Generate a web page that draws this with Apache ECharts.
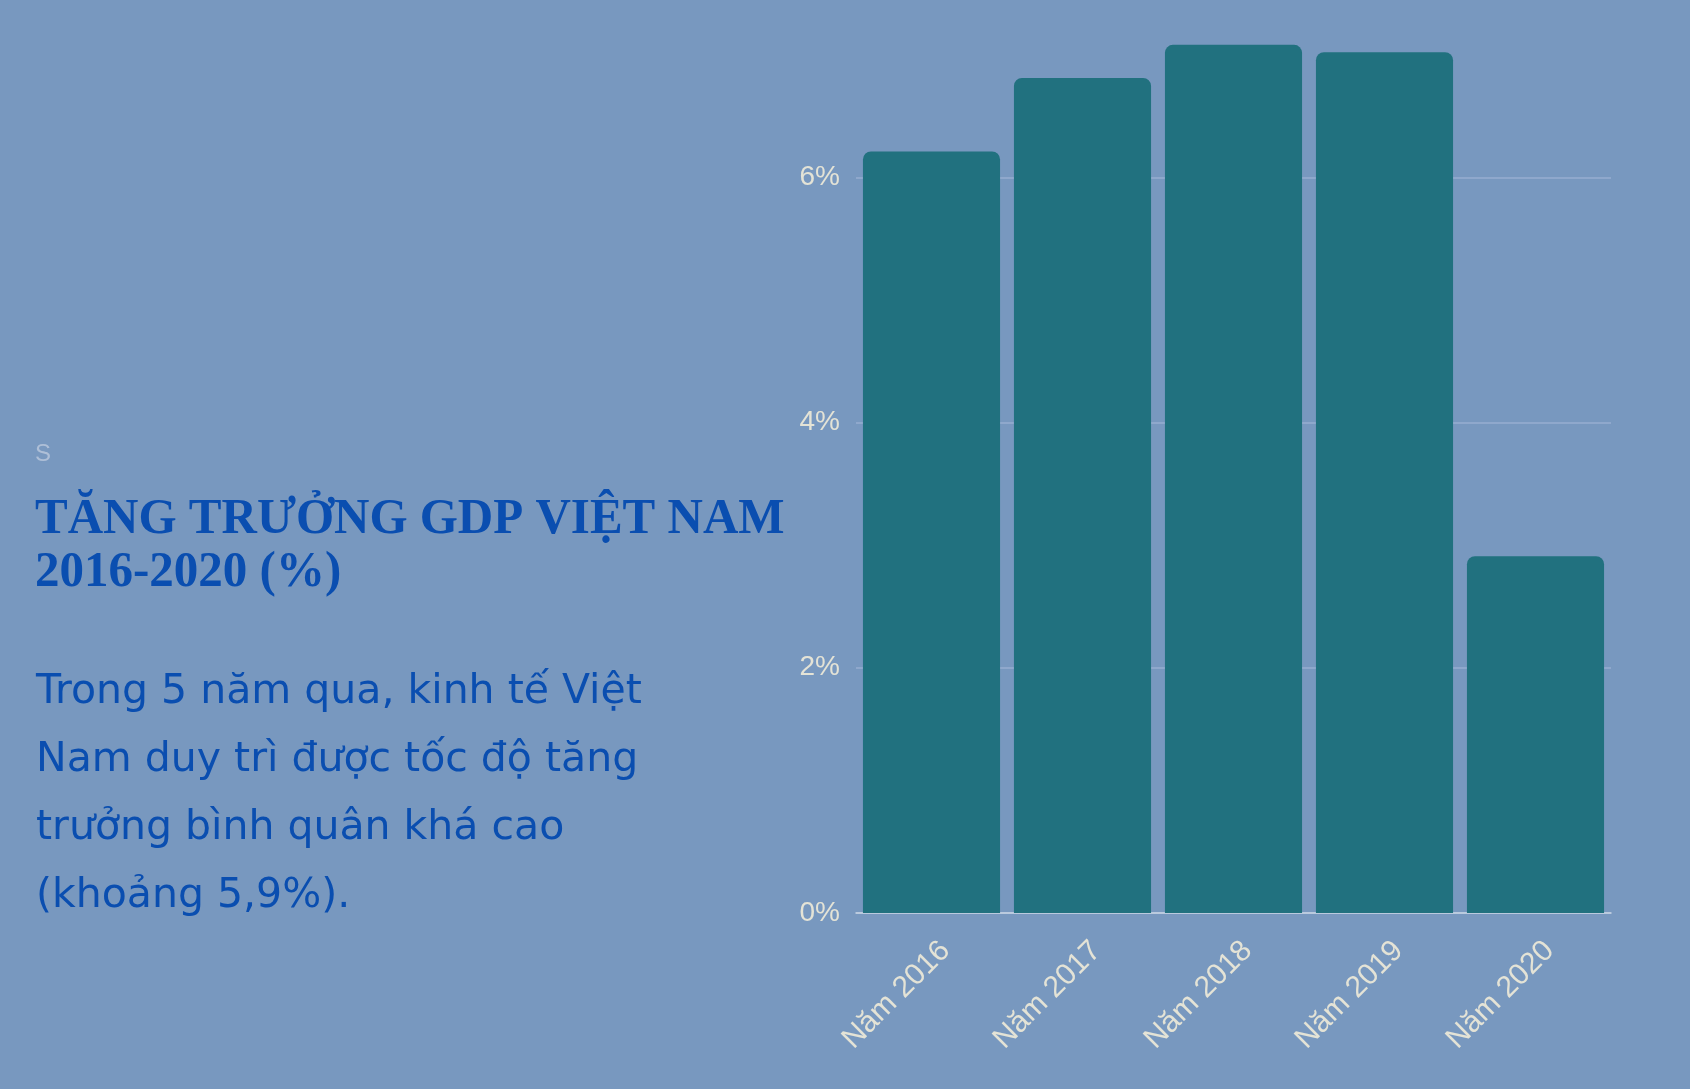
<!DOCTYPE html>
<html>
<head>
<meta charset="utf-8">
<style>
  html, body { margin: 0; padding: 0; background: #7898bf; }
  #chart { width: 1690px; height: 1089px; }
</style>
<script src="https://cdn.jsdelivr.net/npm/echarts@6/dist/echarts.min.js"></script>
</head>
<body>
<div id="chart"></div>
<script>
// dữ liệu tăng trưởng GDP (%)
const years = ["Năm 2016", "Năm 2017", "Năm 2018", "Năm 2019", "Năm 2020"];
const growth = [6.21, 6.81, 7.08, 7.02, 2.91];
const yTicks = [0, 2, 4, 6];

const titleLines = ["TĂNG TRƯỞNG GDP VIỆT NAM", "2016-2020 (%)"];
const bodyLines = [
  "Trong 5 năm qua, kinh tế Việt",
  "Nam duy trì được tốc độ tăng",
  "trưởng bình quân khá cao",
  "(khoảng 5,9%).",
];

const chart = echarts.init(document.getElementById("chart"));
const labelColor = "#e4e3d6";
const blue = "#0a4eb0";

const option = {
  backgroundColor: "#7898bf",
  animation: false,
  grid: [
    { left: 856, right: 79, top: -68, bottom: 176, outerBoundsMode: "none" },
    // lưới phụ chỉ để đặt nhãn trục x lệch sang phải
    { left: 870, right: 65, top: -68, bottom: 176, outerBoundsMode: "none" },
  ],
  xAxis: [
    {
      type: "category",
      data: years,
      gridIndex: 0,
      axisLine: { lineStyle: { color: "#c9d5e4", width: 1.5 } },
      axisTick: { show: false },
      axisLabel: { show: false },
    },
    {
      type: "category",
      data: years,
      gridIndex: 1,
      axisLine: { show: false },
      axisTick: { show: false },
      axisLabel: {
        rotate: 45,
        margin: 33,
        color: labelColor,
        fontSize: 30,
        fontFamily: "Liberation Sans",
      },
    },
  ],
  yAxis: [
    {
      type: "value",
      gridIndex: 0,
      min: 0,
      max: 8,
      interval: 2,
      axisLine: { show: false },
      axisTick: { show: false },
      splitLine: { lineStyle: { color: "#97aed0", width: 1.5 } },
      axisLabel: {
        margin: 16,
        color: labelColor,
        fontSize: 28,
        fontFamily: "Liberation Sans",
        formatter: (v) => (yTicks.includes(v) ? v + "%" : ""),
      },
    },
    {
      type: "value",
      gridIndex: 1,
      min: 0,
      max: 8,
      show: false,
    },
  ],
  series: [
    {
      type: "bar",
      data: growth,
      xAxisIndex: 0,
      yAxisIndex: 0,
      barCategoryGap: "9.2%",
      itemStyle: { color: "#21717f", borderRadius: [8, 8, 0, 0] },
    },
  ],
  graphic: [
    {
      type: "text",
      left: 35,
      top: 442,
      style: { text: "S", fill: "#aebfd7", font: "24px 'Liberation Sans'" },
    },
    {
      type: "text",
      left: 35,
      top: 494,
      scaleX: 0.98,
      style: {
        text: titleLines.join("\n"),
        fill: blue,
        font: "bold 50px 'Liberation Serif'",
        lineHeight: 53,
      },
    },
    {
      type: "text",
      left: 36,
      top: 658,
      style: {
        text: bodyLines.join("\n"),
        fill: blue,
        font: "41px 'DejaVu Sans'",
        lineHeight: 68,
      },
    },
  ],
};

chart.setOption(option);
</script>
</body>
</html>
